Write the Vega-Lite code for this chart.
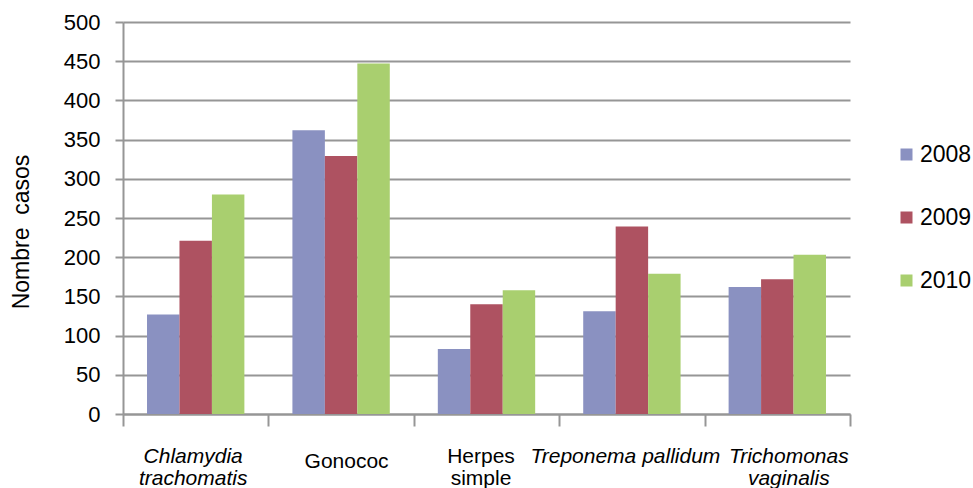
{
  "$schema": "https://vega.github.io/schema/vega-lite/v6.json",
  "width": 727,
  "height": 392,
  "autosize": "none",
  "padding": {"left": 123, "top": 22, "right": 123, "bottom": 74},
  "background": "white",
  "config": {"view": {"stroke": null}, "font": "Liberation Sans"},
  "data": {
    "values": [
      {"organisme": "Chlamydia trachomatis", "any": "2008", "casos": 127},
      {"organisme": "Chlamydia trachomatis", "any": "2009", "casos": 221},
      {"organisme": "Chlamydia trachomatis", "any": "2010", "casos": 280},
      {"organisme": "Gonococ", "any": "2008", "casos": 362},
      {"organisme": "Gonococ", "any": "2009", "casos": 329},
      {"organisme": "Gonococ", "any": "2010", "casos": 447},
      {"organisme": "Herpes simple", "any": "2008", "casos": 83},
      {"organisme": "Herpes simple", "any": "2009", "casos": 140},
      {"organisme": "Herpes simple", "any": "2010", "casos": 158},
      {"organisme": "Treponema pallidum", "any": "2008", "casos": 131},
      {"organisme": "Treponema pallidum", "any": "2009", "casos": 239},
      {"organisme": "Treponema pallidum", "any": "2010", "casos": 179},
      {"organisme": "Trichomonas vaginalis", "any": "2008", "casos": 162},
      {"organisme": "Trichomonas vaginalis", "any": "2009", "casos": 172},
      {"organisme": "Trichomonas vaginalis", "any": "2010", "casos": 203}
    ]
  },
  "mark": {"type": "bar"},
  "encoding": {
    "x": {
      "field": "organisme",
      "type": "nominal",
      "sort": ["Chlamydia trachomatis", "Gonococ", "Herpes simple", "Treponema pallidum", "Trichomonas vaginalis"],
      "scale": {"paddingInner": 0, "paddingOuter": 0},
      "axis": {
        "title": null,
        "labelAngle": 0,
        "labelLimit": 0,
        "tickBand": "extent",
        "tickSize": 12,
        "tickWidth": 2,
        "tickColor": "#969696",
        "domainColor": "#969696",
        "domainWidth": 2,
        "grid": false,
        "labelFontSize": 21,
        "labelColor": "#000000",
        "labelBaseline": "top",
        "labelLineHeight": 22,
        "labelPadding": {"condition": {"test": "datum.value == 'Gonococ'", "value": 24}, "value": 19},
        "labelFontStyle": {"condition": {"test": "datum.value == 'Gonococ' || datum.value == 'Herpes simple'", "value": "normal"}, "value": "italic"},
        "labelOffset": {"condition": [
          {"test": "datum.value == 'Trichomonas vaginalis'", "value": 11},
          {"test": "datum.value == 'Treponema pallidum'", "value": -7},
          {"test": "datum.value == 'Herpes simple'", "value": -6},
          {"test": "datum.value == 'Gonococ'", "value": 5},
          {"test": "datum.value == 'Chlamydia trachomatis'", "value": -3}
        ], "value": 0},
        "labelExpr": "datum.value == 'Chlamydia trachomatis' ? ['Chlamydia', 'trachomatis'] : datum.value == 'Herpes simple' ? ['Herpes', 'simple'] : datum.value == 'Trichomonas vaginalis' ? ['Trichomonas', 'vaginalis'] : datum.value"
      }
    },
    "xOffset": {
      "field": "any",
      "type": "nominal",
      "scale": {"paddingInner": 0, "paddingOuter": 0.74}
    },
    "y": {
      "field": "casos",
      "type": "quantitative",
      "scale": {"domain": [0, 500], "nice": false},
      "axis": {
        "values": [0, 50, 100, 150, 200, 250, 300, 350, 400, 450, 500],
        "title": "Nombre\u00a0 casos",
        "titleFontSize": 23,
        "titleFontWeight": "normal",
        "titleColor": "#000000",
        "titleAngle": -90,
        "titleX": -95,
        "titleY": 209.5,
        "titleAlign": "center",
        "titleBaseline": "alphabetic",
        "labelFontSize": 22,
        "labelColor": "#000000",
        "labelPadding": 15,
        "tickSize": 8,
        "tickWidth": 2,
        "tickColor": "#969696",
        "domainColor": "#969696",
        "domainWidth": 2,
        "gridColor": "#969696",
        "gridWidth": 2
      }
    },
    "color": {
      "field": "any",
      "type": "nominal",
      "scale": {"domain": ["2008", "2009", "2010"], "range": ["#8A91C1", "#AE5261", "#A9CF6F"]},
      "legend": {
        "title": null,
        "orient": "none",
        "legendX": 772,
        "legendY": 121,
        "symbolType": "square",
        "symbolSize": 144,
        "symbolStrokeWidth": 0,
        "labelFontSize": 23,
        "labelColor": "#000000",
        "labelOffset": 2,
        "rowPadding": 39
      }
    }
  }
}
